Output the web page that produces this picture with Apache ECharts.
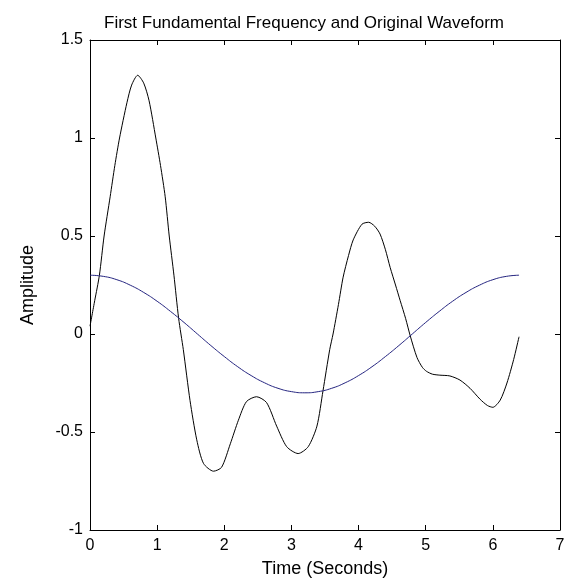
<!DOCTYPE html>
<html>
<head>
<meta charset="utf-8">
<script src="https://cdn.jsdelivr.net/npm/echarts@6/dist/echarts.min.js"></script>
<style>html,body{margin:0;padding:0;background:#fff;}#c{width:573px;height:583px;}</style>
</head>
<body>
<div id="c"></div>
<script>
// Original waveform (black)
var waveT = [0.00,0.07,0.14,0.21,0.30,0.37,0.44,0.55,0.62,0.71,0.80,0.88,0.98,1.05,1.12,1.18,1.25,1.32,1.39,1.49,1.59,1.69,1.84,1.96,2.09,2.21,2.33,2.48,2.63,2.78,2.93,3.10,3.25,3.38,3.47,3.57,3.62,3.70,3.77,3.85,3.92,4.05,4.15,4.24,4.32,4.40,4.47,4.55,4.62,4.70,4.77,4.87,4.95,5.01,5.10,5.21,5.36,5.51,5.66,5.81,5.92,6.00,6.11,6.21,6.31,6.39];
var waveV = [0.04,0.17,0.30,0.50,0.70,0.86,1.00,1.18,1.27,1.32,1.28,1.19,1.00,0.86,0.70,0.50,0.30,0.08,-0.08,-0.34,-0.54,-0.66,-0.70,-0.68,-0.56,-0.44,-0.345,-0.32,-0.35,-0.47,-0.575,-0.61,-0.575,-0.47,-0.29,-0.08,0.00,0.15,0.29,0.40,0.48,0.56,0.57,0.55,0.51,0.43,0.34,0.25,0.17,0.08,-0.01,-0.12,-0.17,-0.19,-0.205,-0.21,-0.214,-0.235,-0.277,-0.333,-0.365,-0.374,-0.337,-0.25,-0.13,-0.014];
// First fundamental frequency (blue)
var fundT = [0.0,0.2,0.4,0.6,0.8,1.0,1.2,1.4,1.6,1.8,2.0,2.2,2.4,2.6,2.8,3.0,3.2,3.4,3.6,3.8,4.0,4.2,4.4,4.6,4.8,5.0,5.2,5.4,5.6,5.8,6.0,6.2,6.39];
var fundV = [0.300,0.294,0.277,0.249,0.212,0.167,0.115,0.059,0.000,-0.059,-0.115,-0.167,-0.212,-0.249,-0.277,-0.294,-0.300,-0.294,-0.277,-0.249,-0.212,-0.167,-0.115,-0.059,0.000,0.059,0.115,0.167,0.212,0.249,0.277,0.294,0.300];
var xTicks = [0,1,2,3,4,5,6,7];
var yTicks = [-1,-0.5,0,0.5,1,1.5];

function pairs(t, v) { return t.map(function (x, i) { return [x, v[i]]; }); }

var FONT = '"Liberation Sans", Arial, sans-serif';
var chart = echarts.init(document.getElementById('c'), null, {renderer: 'canvas'});
var axisLine = {show: true, onZero: false, lineStyle: {color: '#000', width: 1}};
var axisTick = {show: true, inside: true, length: 5, lineStyle: {color: '#000', width: 1}};
chart.setOption({
  animation: false,
  backgroundColor: '#fff',
  title: {
    text: 'First Fundamental Frequency and Original Waveform',
    left: 299, top: 10, textAlign: 'center',
    textStyle: {fontFamily: FONT, fontSize: 17, fontWeight: 'normal', color: '#000'}
  },
  grid: {left: 90, right: 13, top: 40, bottom: 53, containLabel: false},
  xAxis: [{
    type: 'value', min: xTicks[0], max: xTicks[xTicks.length - 1], interval: 1,
    name: 'Time (Seconds)', nameLocation: 'middle', nameGap: 30,
    nameTextStyle: {fontFamily: FONT, fontSize: 18, color: '#000'},
    axisLine: axisLine, axisTick: axisTick, splitLine: {show: false},
    axisLabel: {fontFamily: FONT, fontSize: 16, color: '#000', margin: 8}
  }, {
    type: 'value', position: 'top', min: xTicks[0], max: xTicks[xTicks.length - 1], interval: 1,
    axisLine: axisLine, axisTick: axisTick, splitLine: {show: false}, axisLabel: {show: false}
  }],
  yAxis: [{
    type: 'value', min: yTicks[0], max: yTicks[yTicks.length - 1], interval: 0.5,
    name: 'Amplitude', nameLocation: 'middle', nameGap: 53, nameRotate: 90,
    nameTextStyle: {fontFamily: FONT, fontSize: 18, color: '#000'},
    axisLine: axisLine, axisTick: axisTick, splitLine: {show: false},
    axisLabel: {fontFamily: FONT, fontSize: 16, color: '#000', margin: 7,
      formatter: function (v) { return String(v); }}
  }, {
    type: 'value', position: 'right', min: yTicks[0], max: yTicks[yTicks.length - 1], interval: 0.5,
    axisLine: axisLine, axisTick: axisTick, splitLine: {show: false}, axisLabel: {show: false}
  }],
  series: [{
    name: 'Original Waveform', type: 'line', data: pairs(waveT, waveV),
    smooth: 0.25, showSymbol: false, lineStyle: {color: '#000', width: 1}
  }, {
    name: 'First Fundamental Frequency', type: 'line', data: pairs(fundT, fundV),
    smooth: true, showSymbol: false, lineStyle: {color: '#23237f', width: 1}
  }]
});
</script>
</body>
</html>
